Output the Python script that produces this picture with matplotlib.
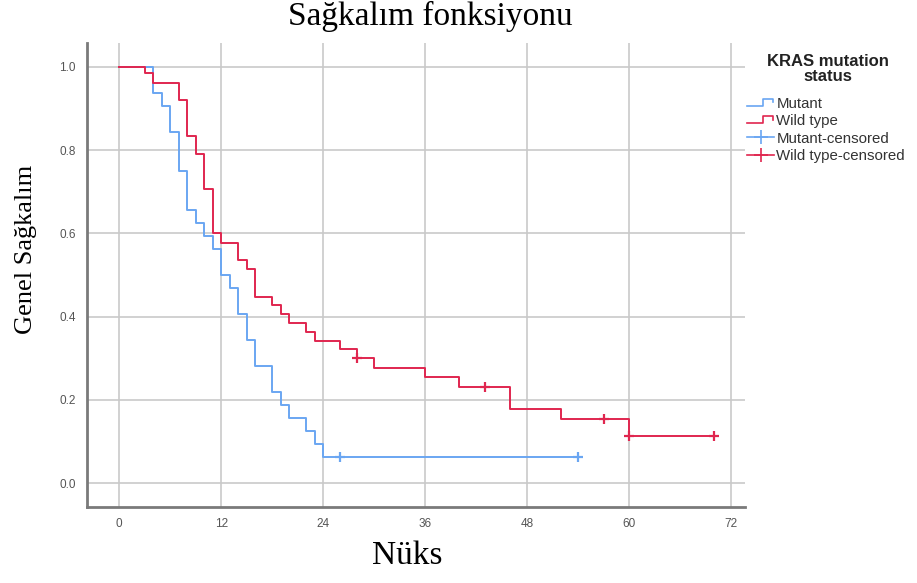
import matplotlib.pyplot as plt
from matplotlib.lines import Line2D
from matplotlib.legend_handler import HandlerBase

# survival steps (months, survival)
mutant_t = [0, 4, 5, 6, 7, 8, 9, 10, 11, 12, 13, 14, 15, 16, 18, 19, 20, 22, 23, 24, 54]
mutant_s = [1.0, 0.9375, 0.906, 0.844, 0.75, 0.656, 0.625, 0.594, 0.5625, 0.5, 0.469,
            0.406, 0.344, 0.281, 0.219, 0.1875, 0.156, 0.125, 0.094, 0.0625, 0.0625]
mutant_cens_t = [26, 54]
mutant_cens_s = [0.0625, 0.0625]

wild_t = [0, 3, 4, 7, 8, 9, 10, 11, 12, 14, 15, 16, 18, 19, 20, 22, 23, 26, 28, 30,
          36, 40, 46, 52, 60, 70]
wild_s = [1.0, 0.984, 0.962, 0.92, 0.834, 0.791, 0.706, 0.60, 0.578, 0.536, 0.514,
          0.448, 0.428, 0.406, 0.385, 0.364, 0.342, 0.322, 0.30, 0.277, 0.254, 0.231,
          0.178, 0.154, 0.114, 0.114]
wild_cens_t = [28, 43, 57, 60, 70]
wild_cens_s = [0.30, 0.231, 0.154, 0.114, 0.114]

x_ticks = [0, 12, 24, 36, 48, 60, 72]
y_ticks = [0.0, 0.2, 0.4, 0.6, 0.8, 1.0]

blue = '#6aa6f2'
red = '#e0264f'


class StepHandler(HandlerBase):
    # small step icon like in the SPSS legend
    def __init__(self, color):
        super().__init__()
        self.color = color

    def create_artists(self, legend, orig_handle, xdescent, ydescent, width, height, fontsize, trans):
        x0 = -xdescent
        y0 = -ydescent
        xs = [x0, x0 + width * 0.6, x0 + width * 0.6, x0 + width * 0.95, x0 + width * 0.95]
        ys = [y0 + height * 0.2, y0 + height * 0.2, y0 + height * 0.85, y0 + height * 0.85, y0 + height * 0.55]
        ln = Line2D(xs, ys, color=self.color, lw=1.2, transform=trans)
        return [ln]


fig = plt.figure(figsize=(9.17, 5.83), dpi=100)
ax = fig.add_axes([87 / 917, 1 - 507 / 583, (745 - 87) / 917, (507 - 43) / 583])

ax.step(mutant_t, mutant_s, where='post', color=blue, lw=1.4)
ax.step(wild_t, wild_s, where='post', color=red, lw=1.4)
ax.plot(mutant_cens_t, mutant_cens_s, '+', color=blue, ms=6.5, mew=1.6)
ax.plot(wild_cens_t, wild_cens_s, '+', color=red, ms=6.5, mew=1.6)

ax.set_xlim(-3.8, 73.6)
ax.set_ylim(-0.057, 1.057)
ax.set_xticks(x_ticks)
ax.set_yticks(y_ticks)
ax.set_yticklabels(['%.1f' % v for v in y_ticks])
ax.grid(True, color='#c9c9c9', lw=1.2)
ax.set_axisbelow(True)
for s in ['top', 'right']:
    ax.spines[s].set_visible(False)
for s in ['left', 'bottom']:
    ax.spines[s].set_color('#7a7a7a')
    ax.spines[s].set_linewidth(2)
ax.tick_params(length=0, labelsize=8.5, labelcolor='#555555', pad=8,
               labelfontfamily='Liberation Sans')

fig.text(430 / 917, 1 - 16 / 583, 'Sağkalım fonksiyonu', family='Liberation Serif',
         fontsize=24, ha='center', va='center')
fig.text(407 / 917, 1 - 556 / 583, 'Nüks', family='Liberation Serif',
         fontsize=24, ha='center', va='center')
fig.text(26 / 917, 1 - 249 / 583, 'Genel Sağkalım', family='Liberation Serif',
         fontsize=19, ha='center', va='center', rotation=90)

fig.text(828 / 917, 1 - 69 / 583, 'KRAS mutation\nstatus', family='Liberation Sans',
         fontsize=12, weight='bold', ha='center', va='center', linespacing=1.0, color='#222222')

h_mut = Line2D([], [], color=blue)
h_wild = Line2D([], [], color=red)
h_mut_c = Line2D([], [], color=blue, marker='+', ms=10, mew=1.2, lw=1.2)
h_wild_c = Line2D([], [], color=red, marker='+', ms=10, mew=1.2, lw=1.2)
leg = fig.legend([h_mut, h_wild, h_mut_c, h_wild_c],
                 ['Mutant', 'Wild type', 'Mutant-censored', 'Wild type-censored'],
                 handler_map={h_mut: StepHandler(blue), h_wild: StepHandler(red)},
                 loc='upper left', bbox_to_anchor=(747 / 917, 1 - 97 / 583),
                 frameon=False, prop={'family': 'Liberation Sans', 'size': 10.8},
                 handlelength=1.8, handletextpad=0.15, labelspacing=0.22,
                 borderpad=0, borderaxespad=0)
for t in leg.get_texts():
    t.set_color('#333333')

fig.savefig('out.png', dpi=100)
